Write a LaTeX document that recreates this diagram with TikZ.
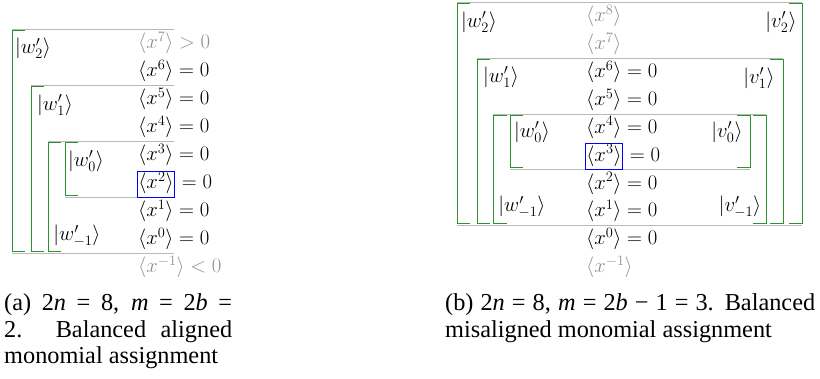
\documentclass[tikz,border=0pt]{standalone}
\usepackage{fontspec}
\usepackage{xcolor}
\usepackage{tikz}
\usetikzlibrary{positioning}
\newfontfamily\capfont{Liberation Serif}
\definecolor{bracketgreen}{RGB}{45, 145, 45}
\definecolor{rulegray}{RGB}{185, 185, 185}
\definecolor{dimtext}{RGB}{145, 145, 145}

\begin{document}
\begin{tikzpicture}[
    x=1pt, y=-1pt,
    every node/.style={font=\fontsize{20.5}{24}\selectfont, inner sep=1pt},
    row/.style={anchor=base west},
    dimrow/.style={row, text=dimtext},
    ket/.style={anchor=center},
    probe/.style={row, draw=blue, line width=0.8pt, text height=17pt, text depth=7pt},
    hrule/.style={draw=rulegray, line width=0.9pt},
    brk/.style={draw=bracketgreen, line width=1pt},
    caption/.style={font=\capfont\fontsize{24.3}{26.7}\selectfont, anchor=base west, inner sep=0pt},
]
\useasboundingbox (0,0) rectangle (820,379);

% ── (a) aligned: rules ──
\draw[hrule] (12,29.5) -- (174,29.5);
\draw[hrule] (31,85.5) -- (174,85.5);
\draw[hrule] (48,141.5) -- (174,141.5);
\draw[hrule] (65,197.5) -- (174,197.5);
\draw[hrule] (12,253.5) -- (174,253.5);

% ── (a) brackets ──
\draw[brk] (25,31) -- (12,31) -- (12,252) -- (25,252);
\draw[brk] (44,87) -- (31,87) -- (31,252) -- (44,252);
\draw[brk] (61,143) -- (48,143) -- (48,252) -- (61,252);
\draw[brk] (78,143) -- (65,143) -- (65,196) -- (78,196);

% ── (a) kets ──
\node[ket] (wa2) at (33,48.5) {$|w'_2\rangle$};
\node[ket] (wa1) at (55,105) {$|w'_1\rangle$};
\node[ket] (wa0) at (86,161) {$|w'_0\rangle$};
\node[ket] (wam) at (77,236) {$|w'_{-1}\rangle$};

% ── (a) monomials ──
\node[dimrow] (a7) at (137,49) {$\langle x^7\rangle > 0$};
\node[row] (a6) at (137,77) {$\langle x^6\rangle = 0$};
\node[row] (a5) at (137,105) {$\langle x^5\rangle = 0$};
\node[row] (a4) at (137,133) {$\langle x^4\rangle = 0$};
\node[row] (a3) at (137,161) {$\langle x^3\rangle = 0$};
\node[probe] (a2) at (137,189) {$\langle x^2\rangle$};
\node[base right=0pt of a2] (a2eq) {${}= 0$};
\node[row] (a1) at (137,217) {$\langle x^1\rangle = 0$};
\node[row] (a0) at (137,245) {$\langle x^0\rangle = 0$};
\node[dimrow] (am) at (137,273) {$\langle x^{-1}\rangle < 0$};

% ── (b) misaligned: rules ──
\draw[hrule] (457,2.5) -- (802,2.5);
\draw[hrule] (477,58) -- (783,58);
\draw[hrule] (493,114) -- (766,114);
\draw[hrule] (510,169.5) -- (750,169.5);
\draw[hrule] (457,225.5) -- (802,225.5);

% ── (b) brackets ──
\draw[brk] (470,4) -- (457,4) -- (457,224) -- (470,224);
\draw[brk] (789,4) -- (802,4) -- (802,224) -- (789,224);
\draw[brk] (490,59.5) -- (477,59.5) -- (477,224) -- (490,224);
\draw[brk] (770,59.5) -- (783,59.5) -- (783,224) -- (770,224);
\draw[brk] (507,115.5) -- (493,115.5) -- (493,224) -- (507,224);
\draw[brk] (753,115.5) -- (766,115.5) -- (766,224) -- (753,224);
\draw[brk] (523,115.5) -- (510,115.5) -- (510,168) -- (523,168);
\draw[brk] (737,115.5) -- (750,115.5) -- (750,168) -- (737,168);

% ── (b) kets ──
\node[ket] (wb2) at (479,22) {$|w'_2\rangle$};
\node[ket] (vb2) at (781,22) {$|v'_2\rangle$};
\node[ket] (wb1) at (501,77) {$|w'_1\rangle$};
\node[ket] (vb1) at (759,78) {$|v'_1\rangle$};
\node[ket] (wb0) at (532,132) {$|w'_0\rangle$};
\node[ket] (vb0) at (727,132) {$|v'_0\rangle$};
\node[ket] (wbm) at (522,207) {$|w'_{-1}\rangle$};
\node[ket] (vbm) at (740,207) {$|v'_{-1}\rangle$};

% ── (b) monomials ──
\node[dimrow] (b8) at (585,22) {$\langle x^8\rangle$};
\node[dimrow] (b7) at (585,50) {$\langle x^7\rangle$};
\node[row] (b6) at (585,78) {$\langle x^6\rangle = 0$};
\node[row] (b5) at (585,106) {$\langle x^5\rangle = 0$};
\node[row] (b4) at (585,133.5) {$\langle x^4\rangle = 0$};
\node[probe] (b3) at (585,161.5) {$\langle x^3\rangle$};
\node[base right=0pt of b3] (b3eq) {${}= 0$};
\node[row] (b2) at (585,189.5) {$\langle x^2\rangle = 0$};
\node[row] (b1) at (585,217) {$\langle x^1\rangle = 0$};
\node[row] (b0) at (585,245) {$\langle x^0\rangle = 0$};
\node[dimrow] (bm) at (585,273) {$\langle x^{-1}\rangle$};

% ── Captions ──
\node[caption] (capa) at (4,310.5) {\parbox[t]{228pt}{%
    \makebox[228pt][s]{(a) 2\textit{n} = 8, \textit{m} = 2\textit{b} =}\\
    \makebox[228pt][s]{2. Balanced aligned}\\
    monomial assignment}};
\node[caption] (capb) at (445,310.5) {\parbox[t]{370pt}{%
    \makebox[370pt][s]{(b) 2\textit{n} = 8, \textit{m} = 2\textit{b} − 1 = 3. Balanced}\\
    misaligned monomial assignment}};

\end{tikzpicture}
\end{document}
